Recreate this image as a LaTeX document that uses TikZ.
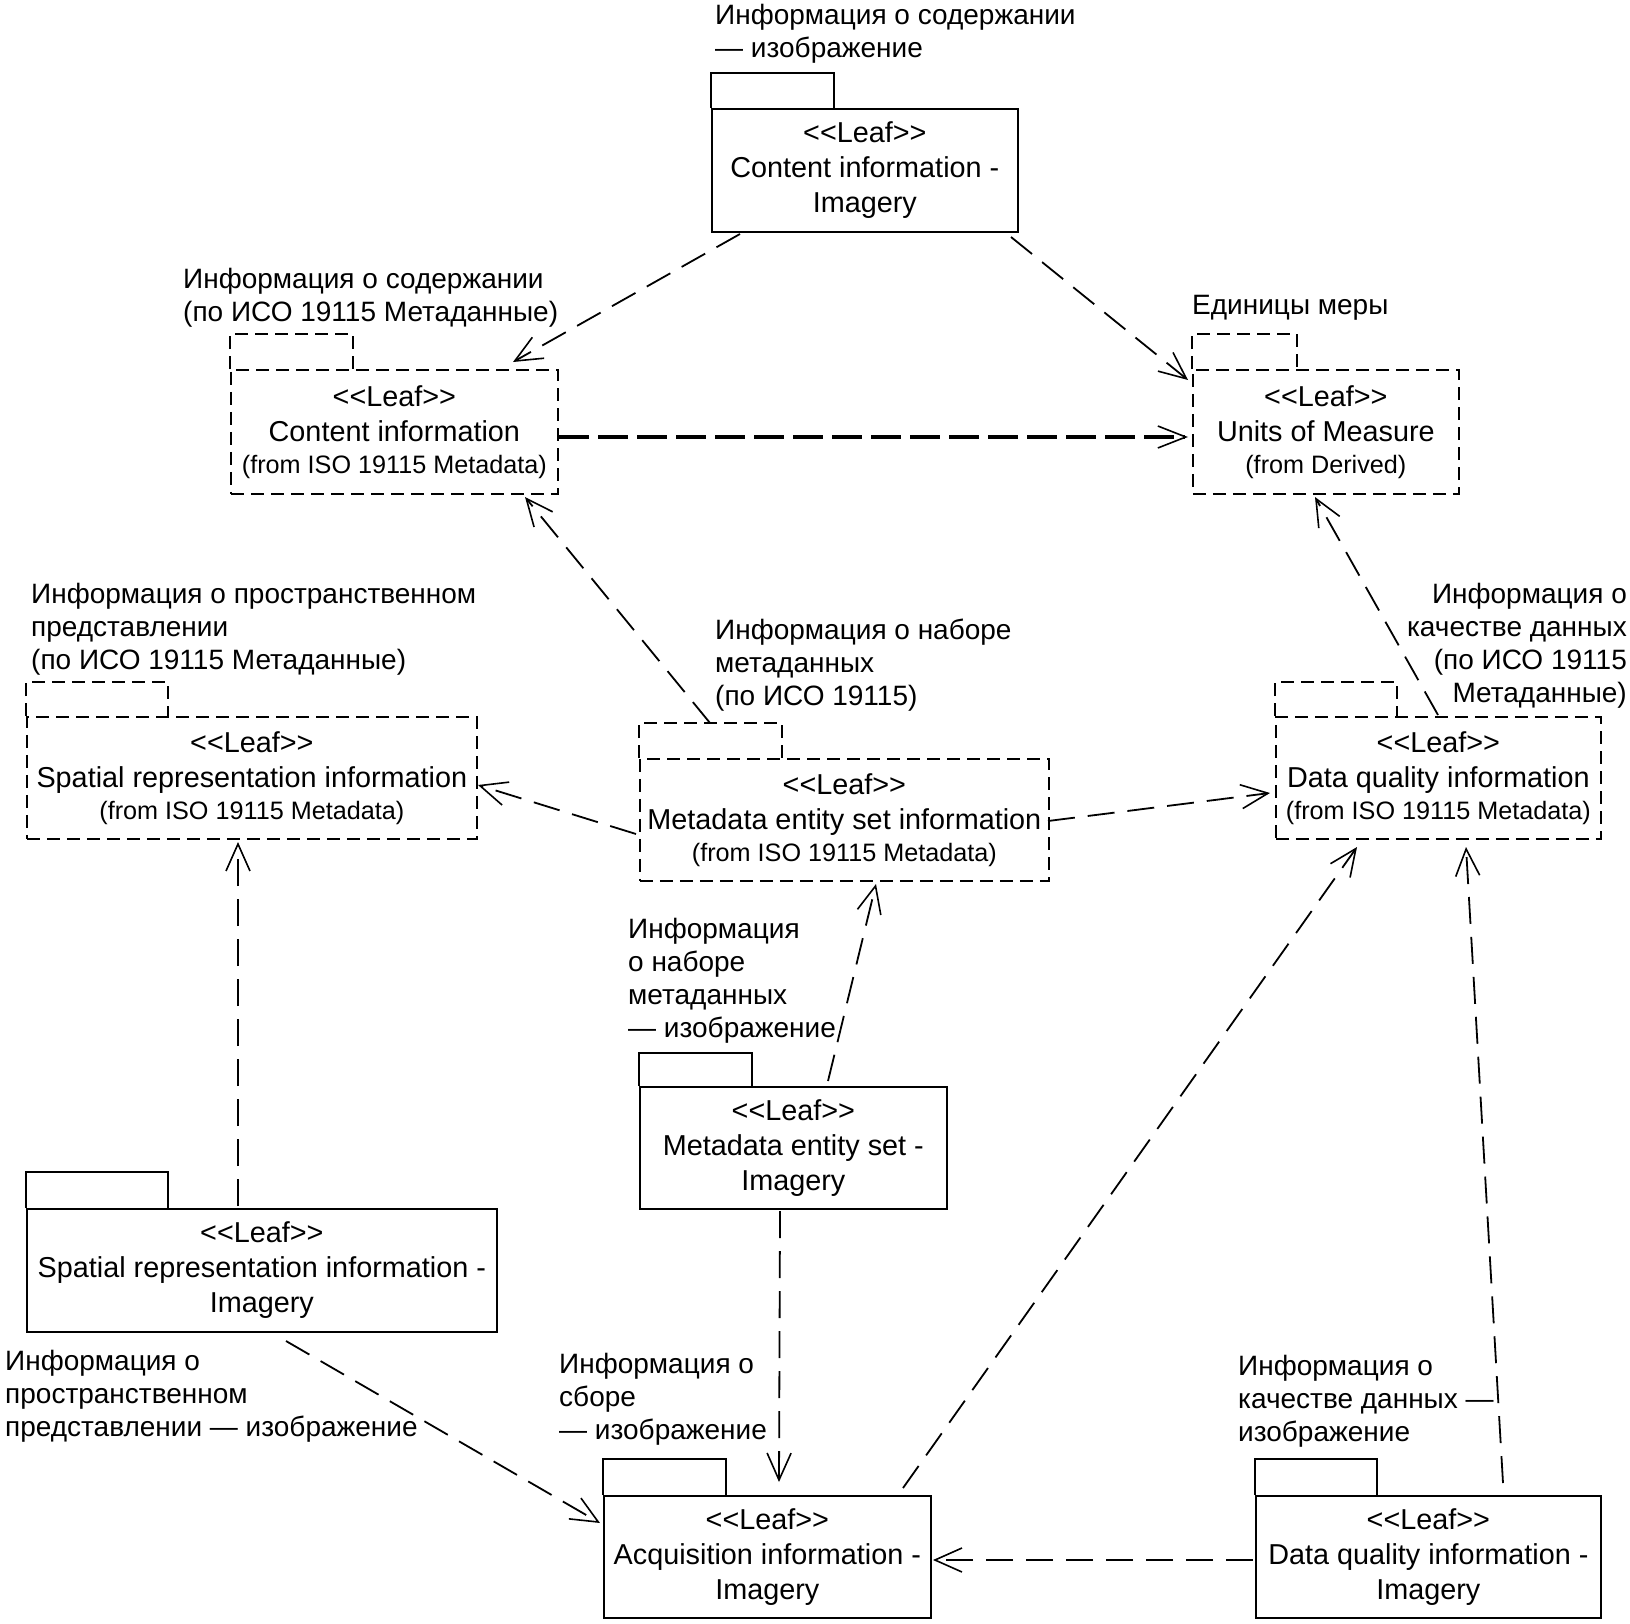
\documentclass[tikz,border=0pt]{standalone}
\usepackage{fontspec}
\setmainfont{Liberation Sans}
\usetikzlibrary{arrows.meta,calc}
\newcommand\leafst{<\kern0pt<Leaf>\kern0pt>}
\newcommand\fromtxt[1]{{\fontsize{25.2}{30}\selectfont #1}}
\begin{document}
\begin{tikzpicture}[x=1pt,y=-1pt,
  pkg/.style={draw, line width=1.7pt, inner sep=0pt, anchor=north west, align=center,
              font=\fontsize{28.8}{35}\selectfont},
  pkgd/.style={pkg, dash pattern=on 13pt off 7pt},
  tabs/.style={line width=1.7pt},
  tabd/.style={line width=1.7pt, dash pattern=on 13pt off 7pt},
  lbl/.style={inner sep=0pt, align=left, anchor=base west, font=\fontsize{28}{33}\selectfont},
  dep/.style={line width=1.8pt, dash pattern=on 27pt off 13pt,
              -{Straight Barb[length=27pt,width=24pt,line width=1.6pt]}},
  depthick/.style={line width=3.4pt, dash pattern=on 30pt off 9pt,
              -{Straight Barb[length=28pt,width=22pt,line width=1.6pt]}}
]
\fill[white] (0,0) rectangle (1630,1624);
\useasboundingbox (0,0) rectangle (1630,1624);

% packages
\node[pkg, minimum width=306pt, minimum height=123pt] (ci) at (711,108) {\leafst\\Content information -\\Imagery};
\draw[tabs] (ci.north west) -- ++(0,-35) -- ++(123,0) -- ++(0,35);

\node[pkgd, minimum width=327pt, minimum height=124pt] (cis) at (230,369) {\leafst\\Content information\\[-3pt]\fromtxt{(from ISO 19115 Metadata)}};
\draw[tabd] (cis.north west) -- ++(0,-35) -- ++(123,0) -- ++(0,35);

\node[pkgd, minimum width=266pt, minimum height=124pt] (um) at (1192,369) {\leafst\\Units of Measure\\[-3pt]\fromtxt{(from Derived)}};
\draw[tabd] (um.north west) -- ++(0,-35) -- ++(105,0) -- ++(0,35);

\node[pkgd, minimum width=450pt, minimum height=122pt] (sri) at (26,716) {\leafst\\Spatial representation information\\[-3pt]\fromtxt{(from ISO 19115 Metadata)}};
\draw[tabd] (sri.north west) -- ++(0,-34) -- ++(142,0) -- ++(0,34);

\node[pkgd, minimum width=409pt, minimum height=122pt] (mesi) at (639,758) {\leafst\\Metadata entity set information\\[-3pt]\fromtxt{(from ISO 19115 Metadata)}};
\draw[tabd] (mesi.north west) -- ++(0,-35) -- ++(143,0) -- ++(0,35);

\node[pkgd, minimum width=325pt, minimum height=122pt] (dqi) at (1275,716) {\leafst\\Data quality information\\[-3pt]\fromtxt{(from ISO 19115 Metadata)}};
\draw[tabd] (dqi.north west) -- ++(0,-34) -- ++(122,0) -- ++(0,34);

\node[pkg, minimum width=307pt, minimum height=122pt] (mes) at (639,1086) {\leafst\\Metadata entity set -\\Imagery};
\draw[tabs] (mes.north west) -- ++(0,-33) -- ++(113,0) -- ++(0,33);

\node[pkg, minimum width=470pt, minimum height=123pt] (sr) at (26,1208) {\leafst\\Spatial representation information -\\Imagery};
\draw[tabs] (sr.north west) -- ++(0,-36) -- ++(142,0) -- ++(0,36);

\node[pkg, minimum width=327pt, minimum height=122pt] (acq) at (603,1495) {\leafst\\Acquisition information -\\Imagery};
\draw[tabs] (acq.north west) -- ++(0,-36) -- ++(123,0) -- ++(0,36);

\node[pkg, minimum width=345pt, minimum height=122pt] (dq) at (1255,1495) {\leafst\\Data quality information -\\Imagery};
\draw[tabs] (dq.north west) -- ++(0,-36) -- ++(122,0) -- ++(0,36);

% labels (anchored at the baseline of the last line)
\node[lbl] (l1) at (715,58) {Информация о содержании\\— изображение};
\node[lbl] (l2) at (183,321) {Информация о содержании\\(по ИСО 19115 Метаданные)};
\node[lbl] (l3) at (1192,314) {Единицы меры};
\node[lbl] (l4) at (31,669) {Информация о пространственном\\представлении\\(по ИСО 19115 Метаданные)};
\node[lbl] (l5) at (715,705) {Информация о наборе\\метаданных\\(по ИСО 19115)};
\node[lbl, align=right, anchor=base east] (l6) at (1627,702) {Информация о\\качестве данных\\(по ИСО 19115\\Метаданные)};
\node[lbl] (l7) at (628,1037) {Информация\\о наборе\\метаданных\\— изображение};
\node[lbl] (l8) at (5,1436) {Информация о\\пространственном\\представлении — изображение};
\node[lbl] (l9) at (559,1439) {Информация о\\сборе\\— изображение};
\node[lbl] (l10) at (1238,1441) {Информация о\\качестве данных —\\изображение};

% connectors
\draw[dep] ($(ci.north west)+(29,126)$) -- ($(cis.north west)+(283,-7)$);
\draw[dep] ($(ci.north west)+(300,129)$) -- ($(um.north west)+(-4,11)$);
\draw[depthick] ($(cis.north west)+(329,68)$) -- ($(um.north west)+(-4,68)$);
\draw[dep] ($(mesi.north west)+(71,-35)$) -- ($(cis.north west)+(295,128)$);
\draw[dep] ($(dqi.north west)+(163,-1)$) -- ($(um.north west)+(123,128)$);
\draw[dep] ($(mesi.north west)+(-3,76)$) -- ($(sri.north west)+(452,69)$);
\draw[dep] ($(mesi.north west)+(409,63)$) -- ($(dqi.north west)+(-5,77)$);
\draw[dep] ($(mes.north west)+(189,-5)$) -- ($(mesi.north west)+(237,126)$);
\draw[dep] ($(sr.north west)+(212,-2)$) -- ($(sri.north west)+(212,126)$);
\draw[dep] ($(mes.north west)+(141,125)$) -- ($(acq.north west)+(176,-13)$);
\draw[dep] ($(sr.north west)+(260,133)$) -- ($(acq.north west)+(-3,28)$);
\draw[dep] ($(acq.north west)+(300,-7)$) -- ($(dqi.north west)+(82,131)$);
\draw[dep] ($(dq.north west)+(248,-12)$) -- ($(dqi.north west)+(191,131)$);
\draw[dep] ($(dq.north west)+(-2,65)$) -- ($(acq.north west)+(330,65)$);
\end{tikzpicture}
\end{document}
